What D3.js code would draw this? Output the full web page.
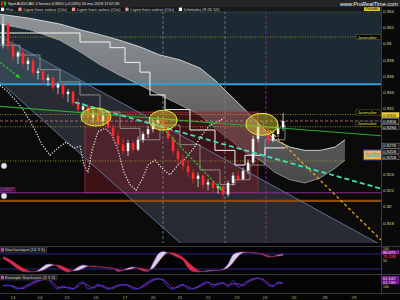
<!DOCTYPE html>
<html>
<head>
<meta charset="utf-8">
<script src="https://cdn.jsdelivr.net/npm/d3@7"></script>
<style>
html, body { margin:0; padding:0; background:#000; }
svg { display:block; font-family:'Liberation Sans', 'DejaVu Sans', sans-serif; }
</style>
</head>
<body>
<svg id="chart" width="400" height="300"></svg>
<script>
'use strict';

// 2h candles, AUD/CAD
var fCandleStart = -0.352;
var fCandleStep = 0.176;
var arrayOpen = [0.9399,0.9424,0.9397,0.9384,0.9389,0.9375,0.9379,0.9364,0.9366,0.9355,0.9358,0.9346,0.9350,0.9338,0.9341,0.9327,0.9319,0.9323,0.9309,0.9315,0.9305,0.9312,0.9297,0.9287,0.9276,0.9268,0.9278,0.9270,0.9282,0.9289,0.9295,0.9303,0.9306,0.9297,0.9284,0.9268,0.9258,0.9250,0.9242,0.9234,0.9238,0.9227,0.9230,0.9223,0.9225,0.9215,0.9229,0.9238,0.9234,0.9244,0.9254,0.9283,0.9299,0.9293,0.9281,0.9289,0.9297];
var arrayHigh = [0.9434,0.9427,0.9404,0.9391,0.9394,0.9383,0.9382,0.9370,0.9368,0.9362,0.9360,0.9353,0.9352,0.9344,0.9343,0.9333,0.9327,0.9325,0.9319,0.9321,0.9317,0.9315,0.9301,0.9293,0.9284,0.9282,0.9281,0.9286,0.9292,0.9299,0.9307,0.9311,0.9309,0.9300,0.9288,0.9272,0.9264,0.9256,0.9246,0.9242,0.9240,0.9234,0.9232,0.9228,0.9226,0.9232,0.9242,0.9244,0.9248,0.9258,0.9287,0.9303,0.9305,0.9296,0.9293,0.9301,0.9315];
var arrayLow = [0.9394,0.9391,0.9379,0.9375,0.9371,0.9367,0.9360,0.9356,0.9350,0.9348,0.9342,0.9338,0.9334,0.9328,0.9323,0.9315,0.9309,0.9305,0.9303,0.9301,0.9299,0.9293,0.9282,0.9271,0.9264,0.9262,0.9266,0.9268,0.9278,0.9284,0.9291,0.9297,0.9293,0.9280,0.9264,0.9252,0.9244,0.9236,0.9228,0.9224,0.9222,0.9220,0.9218,0.9216,0.9210,0.9212,0.9226,0.9230,0.9232,0.9240,0.9252,0.9279,0.9287,0.9277,0.9279,0.9285,0.9293];
var arrayClose = [0.9424,0.9397,0.9384,0.9389,0.9375,0.9379,0.9364,0.9366,0.9355,0.9358,0.9346,0.9350,0.9338,0.9341,0.9327,0.9319,0.9323,0.9309,0.9315,0.9305,0.9312,0.9297,0.9287,0.9276,0.9268,0.9278,0.9270,0.9282,0.9289,0.9295,0.9303,0.9306,0.9297,0.9284,0.9268,0.9258,0.9250,0.9242,0.9234,0.9238,0.9227,0.9230,0.9223,0.9225,0.9215,0.9229,0.9238,0.9234,0.9244,0.9254,0.9283,0.9299,0.9293,0.9281,0.9289,0.9297,0.9305];

// ichimoku cloud
var arrayCloudT = [-0.457,0.598,1.654,2.357,3.061,3.765,4.469,5.172,5.876,6.580,7.108,7.635,8.163,8.691,9.219,9.747,10.274,10.802,11.330,11.682];
var arrayCloudTop = [0.9436,0.9431,0.9424,0.9417,0.9411,0.9404,0.9396,0.9386,0.9380,0.9370,0.9355,0.9337,0.9319,0.9300,0.9282,0.9273,0.9269,0.9269,0.9273,0.9282];
var arrayCloudBottom = [0.9424,0.9417,0.9404,0.9390,0.9374,0.9361,0.9349,0.9337,0.9325,0.9312,0.9296,0.9282,0.9267,0.9257,0.9242,0.9233,0.9229,0.9235,0.9247,0.9257];

var arrayKijunT = [-0.457,2.357,3.413,3.941,4.469,4.820,5.348,6.228,7.108,7.811,8.163,8.867,9.571];
var arrayKijunP = [0.9413,0.9402,0.9395,0.9377,0.9365,0.9337,0.9319,0.9294,0.9269,0.9251,0.9263,0.9272,0.9272];

var arrayTenkanT = [-0.457,0.246,0.950,1.654,2.357,3.061,3.765,4.469,5.172,5.876,6.580,7.284,7.811,8.339,8.867,9.571];
var arrayTenkanP = [0.9398,0.9386,0.9368,0.9353,0.9337,0.9316,0.9296,0.9282,0.9300,0.9276,0.9245,0.9227,0.9233,0.9251,0.9282,0.9300];

var arrayChikouT = [-0.457,-0.176,0.070,0.317,0.528,0.774,1.020,1.302,1.583,1.865,2.146,2.357,2.498,2.639,2.780,2.991,3.237,3.484,3.695,3.906,4.117,4.328,4.539,4.750,4.996,5.243,5.524,5.806,6.087,6.369,6.650,6.932,7.213,7.424];
var arrayChikouP = [0.9349,0.9341,0.9331,0.9321,0.9309,0.9294,0.9276,0.9263,0.9272,0.9279,0.9272,0.9274,0.9251,0.9242,0.9269,0.9292,0.9296,0.9288,0.9269,0.9242,0.9227,0.9220,0.9233,0.9251,0.9257,0.9247,0.9239,0.9251,0.9260,0.9272,0.9288,0.9300,0.9304,0.9309];

// drawn objects : [t0, p0, t1, p1]
var arrayChannelUpper = [-0.457, 0.9409, 12.95, 0.9153];
var arrayChannelLower = [-0.457, 0.9353, 12.95, 0.8935];
var arrayGreenLine = [-0.457, 0.9323, 12.95, 0.9287];
var arrayCyanLine = [2.18, 0.9328, 12.95, 0.9222];
var arrayOrangeLine = [9.04, 0.9293, 12.95, 0.9159];
var arrayArrows = [[-0.457, 0.9377, 0.246, 0.9358], [5.278, 0.9296, 7.354, 0.9220]];
var arrayZone = [2.533, 0.9316, 8.62, 0.9217];
var arrayEllipseT = [2.92, 5.28, 8.76];
var arrayEllipseP = [0.9310, 0.9306, 0.9301];
var arrayAlertP = [0.9250, 0.9213];
var arrayMarkerT = [5.278, 7.46, 8.90];

var arrayLevelP = [0.9439, 0.9408, 0.9350, 0.9313, 0.9305, 0.9298, 0.9256, 0.9217, 0.9207];
var arrayLevelEndT = [null, null, null, null, null, null, 11.68, null, null];
var arrayJournalierLevel = [1, 3, 5];

var arrayPriceTicks = [0.944,0.942,0.940,0.938,0.936,0.934,0.932,0.930,0.928,0.926,0.924,0.922,0.920,0.918];
var arrayTagP = [0.9305, 0.9306, 0.9294, 0.9276, 0.9258, 0.9258];

var arrayDayT = [0,0.95,1.90,2.92,3.94,4.93,5.88,6.86,7.88,8.87,9.89,10.98,12];
var arrayDayLabels = ['13','14','15','16','17','20','21','22','23','24','26','28','29'];

var arrayStochK = [62,50,35,20,10,8,8,15,30,40,38,28,15,8,15,28,36,32,28,28,26,24,22,10,15,24,28,22,12,10,45,80,90,85,76,66,55,25,10,8,10,14,15,14,20,40,78,86,88,87,84,82,76,68,70,76,80.071];
var arrayStochD = [70,62,50,36,24,14,9,10,15,26,34,36,30,20,12,14,22,30,32,30,28,26,24,18,15,17,22,25,22,16,22,45,70,85,85,78,66,48,30,15,10,11,13,14,17,25,45,70,84,87,86,84,80,74,70,72,75.198];
var arrayStoch2A = [40,45,30,15,30,50,70,82,95,90,40,15,40,20,15,55,70,15,30,50,30,14,30,45,50,40,15,20,45,70,90,95,80,30,15,40,50,15,20,36,60,70,30,65,60,30,80,30,55,80,95,100,80,45,35,70,61.642];
var arrayStoch2B = [40,42,38,22,20,38,58,75,88,92,65,28,25,30,18,35,62,42,22,40,40,22,22,38,48,45,28,18,32,58,80,93,88,55,22,28,45,32,18,28,48,65,50,48,62,45,55,55,42,68,88,98,90,62,40,60,61.196];

var arrayLegendLabels = ['Prix','Ligne hors valeur (Clo)','Ligne hors valeur (Clo)','Ligne hors valeur (Clo)','Ichimoku (9 26 52)'];
var arrayLegendColors = ['#ffffff','#f09090','#f09090','#f09090','#ffffff'];

// layout
var nPlotRight = 381;
var nPlotTop = 11;
var nPlotBottom = 243;

var x = d3.scaleLinear().domain([0, 12]).range([13, 354]);
var y = d3.scaleLinear().domain([0.944, 0.918]).range([11, 222.9]);
var yStoch = d3.scaleLinear().domain([0, 100]).range([274, 249]);
var yStoch2 = d3.scaleLinear().domain([0, 100]).range([291, 278]);

var localeFr = d3.formatLocale({decimal: ',', thousands: '.', grouping: [3], currency: ['', '']});
var fmtTick = localeFr.format('.3~f');
var fmtTag = localeFr.format('.4f');
var fmtStoch = d3.format('.3f');

var svg = d3.select('#chart');
var defs = svg.append('defs');

defs.append('clipPath').attr('id', 'clipPlot')
	.append('rect').attr('x', 0).attr('y', nPlotTop).attr('width', nPlotRight).attr('height', nPlotBottom - nPlotTop);
defs.append('clipPath').attr('id', 'clipStoch')
	.append('rect').attr('x', 0).attr('y', 248).attr('width', nPlotRight).attr('height', 26);
defs.append('clipPath').attr('id', 'clipStoch2')
	.append('rect').attr('x', 0).attr('y', 275).attr('width', nPlotRight).attr('height', 18);

var gradCloud = defs.append('linearGradient').attr('id', 'gradCloud').attr('x1', 0).attr('y1', 0).attr('x2', 0).attr('y2', 1);
gradCloud.append('stop').attr('offset', '0%').attr('stop-color', '#d4d4d4');
gradCloud.append('stop').attr('offset', '100%').attr('stop-color', '#6e6e6e');

svg.append('rect').attr('width', 400).attr('height', 300).attr('fill', '#050505');

function Seg(array)
{
	return [[x(array[0]), y(array[1])], [x(array[2]), y(array[3])]];
}

// ---------- main plot
var gPlot = svg.append('g').attr('clip-path', 'url(#clipPlot)');

gPlot.append('rect')
	.attr('x', 0).attr('y', nPlotTop).attr('width', nPlotRight).attr('height', nPlotBottom - nPlotTop)
	.attr('fill', '#0b0b0b');
gPlot.append('rect')
	.attr('x', 0).attr('y', nPlotTop).attr('width', nPlotRight).attr('height', y(arrayLevelP[2]) - nPlotTop)
	.attr('fill', '#1c2a33');

// channel
var arrayChannelPoly = Seg(arrayChannelUpper).concat(Seg(arrayChannelLower).reverse());
gPlot.append('path')
	.attr('d', d3.line()(arrayChannelPoly) + 'Z')
	.attr('fill', '#a0b4d2').attr('fill-opacity', 0.2);

// cloud
var arrayCloud = arrayCloudT.map(function(t, i) { return {t: t, top: arrayCloudTop[i], bottom: arrayCloudBottom[i]}; });
gPlot.append('path')
	.attr('d', d3.area().x(function(d) { return x(d.t); }).y0(function(d) { return y(d.bottom); }).y1(function(d) { return y(d.top); })(arrayCloud))
	.attr('fill', 'url(#gradCloud)').attr('fill-opacity', 0.62);
gPlot.append('path')
	.attr('d', d3.line().x(function(d) { return x(d.t); }).y(function(d) { return y(d.top); })(arrayCloud))
	.attr('fill', 'none').attr('stroke', '#ececec').attr('stroke-width', 0.8);
gPlot.append('path')
	.attr('d', d3.line().x(function(d) { return x(d.t); }).y(function(d) { return y(d.bottom); })(arrayCloud))
	.attr('fill', 'none').attr('stroke', '#c8c8c8').attr('stroke-width', 0.6);

// zone
gPlot.append('rect')
	.attr('x', x(arrayZone[0])).attr('y', y(arrayZone[1]))
	.attr('width', x(arrayZone[2]) - x(arrayZone[0])).attr('height', y(arrayZone[3]) - y(arrayZone[1]))
	.attr('fill', '#7a1a24').attr('fill-opacity', 0.45)
	.attr('stroke', '#a8303e').attr('stroke-width', 0.8);

// horizontal levels
var arrayLevelStyle = [
	{color: '#a8a830', dash: '1,1.5', width: 0.8},
	{color: '#a8a830', dash: '1,1.5', width: 0.8},
	{color: '#2f9fd8', dash: null, width: 2},
	{color: '#b0a030', dash: '1,1.5', width: 0.8},
	{color: '#c08080', dash: '3,2', width: 0.8},
	{color: '#b0a030', dash: '1,1.5', width: 0.8},
	{color: '#a8a830', dash: '1,1.5', width: 0.8},
	{color: '#8a2a8a', dash: null, width: 1.2},
	{color: '#8a4a10', dash: null, width: 2.2}
];
arrayLevelP.forEach(function(fPrice, i)
{
	var style = arrayLevelStyle[i];
	var fEnd = arrayLevelEndT[i] == null ? nPlotRight : x(arrayLevelEndT[i]);
	gPlot.append('line')
		.attr('x1', 0).attr('x2', fEnd).attr('y1', y(fPrice)).attr('y2', y(fPrice))
		.attr('stroke', style.color).attr('stroke-width', style.width)
		.attr('stroke-dasharray', style.dash);
});

// vertical markers
var arrayMarkerColor = ['#7a7a7a', '#7a7a7a', '#a020b0'];
arrayMarkerT.forEach(function(t, i)
{
	gPlot.append('line')
		.attr('x1', x(t)).attr('x2', x(t)).attr('y1', nPlotTop).attr('y2', nPlotBottom)
		.attr('stroke', arrayMarkerColor[i]).attr('stroke-width', 0.9).attr('stroke-dasharray', '3,2');
});

// channel borders
[arrayChannelUpper, arrayChannelLower].forEach(function(array)
{
	gPlot.append('path').attr('d', d3.line()(Seg(array)))
		.attr('stroke', '#6884b4').attr('stroke-width', 0.8).attr('fill', 'none');
});

// kijun / tenkan
gPlot.append('path')
	.attr('d', d3.line().x(function(t) { return x(t); }).y(function(t, i) { return y(arrayTenkanP[i]); }).curve(d3.curveStepAfter)(arrayTenkanT))
	.attr('fill', 'none').attr('stroke', '#a0a0a0').attr('stroke-width', 0.8);
gPlot.append('path')
	.attr('d', d3.line().x(function(t) { return x(t); }).y(function(t, i) { return y(arrayKijunP[i]); }).curve(d3.curveStepAfter)(arrayKijunT))
	.attr('fill', 'none').attr('stroke', '#f4f4f4').attr('stroke-width', 1);

// chikou
gPlot.append('path')
	.attr('d', d3.line().x(function(t) { return x(t); }).y(function(t, i) { return y(arrayChikouP[i]); })(arrayChikouT))
	.attr('fill', 'none').attr('stroke', '#ececec').attr('stroke-width', 1.2).attr('stroke-dasharray', '1.2,1.6');

// candles
var arrayCandles = arrayOpen.map(function(fOpen, i)
{
	return {t: fCandleStart + i * fCandleStep, o: fOpen, h: arrayHigh[i], l: arrayLow[i], c: arrayClose[i]};
});
var gCandles = gPlot.append('g');
gCandles.selectAll('line').data(arrayCandles).enter().append('line')
	.attr('x1', function(d) { return x(d.t); }).attr('x2', function(d) { return x(d.t); })
	.attr('y1', function(d) { return y(d.h); }).attr('y2', function(d) { return y(d.l); })
	.attr('stroke', function(d) { return d.c >= d.o ? '#f4f4f4' : '#ff2a2a'; }).attr('stroke-width', 0.7);
gCandles.selectAll('rect').data(arrayCandles).enter().append('rect')
	.attr('x', function(d) { return x(d.t) - 1.3; }).attr('width', 2.6)
	.attr('y', function(d) { return y(Math.max(d.o, d.c)); })
	.attr('height', function(d) { return Math.max(0.8, Math.abs(y(d.o) - y(d.c))); })
	.attr('fill', function(d) { return d.c >= d.o ? '#f4f4f4' : '#ff2a2a'; });

// trend lines
gPlot.append('path').attr('d', d3.line()(Seg(arrayGreenLine)))
	.attr('stroke', '#28a830').attr('stroke-width', 1.1).attr('fill', 'none');
gPlot.append('path').attr('d', d3.line()(Seg(arrayCyanLine)))
	.attr('stroke', '#3de0b8').attr('stroke-width', 1.8).attr('stroke-dasharray', '5,3').attr('fill', 'none');
gPlot.append('path').attr('d', d3.line()(Seg(arrayOrangeLine)))
	.attr('stroke', '#e8a820').attr('stroke-width', 1.3).attr('stroke-dasharray', '3,2.5').attr('fill', 'none');

arrayArrows.forEach(function(array)
{
	var arrayPts = Seg(array);
	gPlot.append('path').attr('d', d3.line()(arrayPts))
		.attr('stroke', '#28d028').attr('stroke-width', 1.1).attr('stroke-dasharray', '2.5,1.5').attr('fill', 'none');
	var fAngle = Math.atan2(arrayPts[1][1] - arrayPts[0][1], arrayPts[1][0] - arrayPts[0][0]);
	var fX = arrayPts[1][0];
	var fY = arrayPts[1][1];
	var arrayHead = [[fX, fY],
		[fX - 4.5 * Math.cos(fAngle - 0.45), fY - 4.5 * Math.sin(fAngle - 0.45)],
		[fX - 4.5 * Math.cos(fAngle + 0.45), fY - 4.5 * Math.sin(fAngle + 0.45)]];
	gPlot.append('path').attr('d', d3.line()(arrayHead) + 'Z').attr('fill', '#28d028');
});

// ellipses
var arrayEllipseR = [[15, 9], [14, 10], [16, 11]];
arrayEllipseT.forEach(function(t, i)
{
	gPlot.append('ellipse')
		.attr('cx', x(t)).attr('cy', y(arrayEllipseP[i]))
		.attr('rx', arrayEllipseR[i][0]).attr('ry', arrayEllipseR[i][1])
		.attr('fill', '#d8d030').attr('fill-opacity', 0.45)
		.attr('stroke', '#f0e830').attr('stroke-width', 1);
});

// alert dots on the left
arrayAlertP.forEach(function(fPrice)
{
	gPlot.append('circle').attr('cx', 4).attr('cy', y(fPrice)).attr('r', 2.8)
		.attr('fill', '#e4e4ec').attr('stroke', '#9a9aa8').attr('stroke-width', 0.5);
});

// left price label
gPlot.append('rect').attr('x', 0).attr('y', y(arrayLevelP[7]) - 5.5).attr('width', 15).attr('height', 4.8)
	.attr('fill', '#2a0c2a').attr('stroke', '#a040a0').attr('stroke-width', 0.5);
gPlot.append('text').attr('x', 1).attr('y', y(arrayLevelP[7]) - 1.6)
	.attr('font-size', 4).attr('fill', '#f070f0').text(fmtTag(arrayLevelP[7]));

// journalier labels
var arrayJournalierNudge = [0, -2, -3];
arrayJournalierLevel.forEach(function(nIndex, i)
{
	var fY = y(arrayLevelP[nIndex]) + arrayJournalierNudge[i];
	gPlot.append('rect').attr('x', 356).attr('y', fY - 2.6).attr('width', 25).attr('height', 5.2)
		.attr('fill', '#050505').attr('stroke', '#8a8a30').attr('stroke-width', 0.4);
	gPlot.append('text').attr('x', 357.5).attr('y', fY + 1.6)
		.attr('font-size', 4.4).attr('fill', '#e8e060').text('Journalier');
});

// twitter box
var fTwitterY = y(arrayLevelP[6]);
gPlot.append('rect').attr('x', 363.5).attr('y', fTwitterY - 11).attr('width', 20).attr('height', 10)
	.attr('fill', '#f2b848').attr('stroke', '#2a3ac8').attr('stroke-width', 1);
gPlot.append('text').attr('x', 365).attr('y', fTwitterY - 3.5)
	.attr('font-size', 6.5).attr('fill', '#3aa0e8').text('twitter');

// ---------- top bars
svg.append('rect').attr('x', 0).attr('y', 0).attr('width', 400).attr('height', 7).attr('fill', '#242424');
svg.append('rect').attr('x', 1).attr('y', 1.5).attr('width', 2).attr('height', 4).attr('fill', '#e02020');
svg.append('rect').attr('x', 4).attr('y', 1.5).attr('width', 2).attr('height', 4).attr('fill', '#20c020');
svg.append('text').attr('x', 8).attr('y', 5).attr('font-size', 3.9).attr('fill', '#e0e0e0')
	.text('Spot AUD/CAD 2 heures 0,9305 (+0,53%) 24 mai 2019 17:07:09');
svg.append('text').attr('x', 398).attr('y', 5.6).attr('text-anchor', 'end')
	.attr('font-size', 5.6).attr('font-style', 'italic').attr('fill', '#f4f4f4').text('www.ProRealTime.com');

svg.append('rect').attr('x', 0).attr('y', 7).attr('width', nPlotRight).attr('height', 4.6).attr('fill', '#141a1e');
var fLegendX = 1;
arrayLegendLabels.forEach(function(strLabel, i)
{
	svg.append('rect').attr('x', fLegendX).attr('y', 7.6).attr('width', 3.2).attr('height', 3.4)
		.attr('fill', arrayLegendColors[i]);
	var text = svg.append('text').attr('x', fLegendX + 5).attr('y', 10.8)
		.attr('font-size', 4.3).attr('fill', '#c8c8c8').text(strLabel);
	fLegendX += 5 + text.node().getComputedTextLength() + 5;
});

// ---------- right axis
svg.append('rect').attr('x', nPlotRight).attr('y', 7).attr('width', 400 - nPlotRight).attr('height', 286).attr('fill', '#0a0a0a');
svg.append('line').attr('x1', nPlotRight + 0.5).attr('x2', nPlotRight + 0.5).attr('y1', 7).attr('y2', 293)
	.attr('stroke', '#3a3a3a').attr('stroke-width', 1);

svg.append('rect').attr('x', 364).attr('y', 7.2).attr('width', 16).attr('height', 3.8).attr('fill', '#d8c820');
svg.append('text').attr('x', 365.5).attr('y', 10.4).attr('font-size', 3.6).attr('fill', '#202020').text('Période');

// tags sit over the tick labels they would hide
var arrayTagNudge = [-6, 1, -3, 1, -8, -2];
var arrayTagY = arrayTagP.map(function(fPrice, i) { return y(fPrice) + arrayTagNudge[i]; });

arrayPriceTicks.forEach(function(fTick)
{
	var fY = y(fTick);
	var bHidden = arrayTagY.some(function(fTagY) { return Math.abs(fTagY - fY) < 4.6; });
	if (bHidden)
	{
		return;
	}
	svg.append('text').attr('x', 383).attr('y', fY + 1.6)
		.attr('font-size', 4.4).attr('fill', '#d8d890').text(fmtTick(fTick));
});

arrayTagP.forEach(function(fPrice, i)
{
	var fY = arrayTagY[i];
	var bMain = i == 0;
	svg.append('rect').attr('x', 382).attr('y', fY - 2.5).attr('width', 17).attr('height', 5)
		.attr('fill', bMain ? '#e8d030' : '#101010')
		.attr('stroke', bMain ? '#f0e060' : '#b8b8b8').attr('stroke-width', 0.4);
	svg.append('text').attr('x', 383).attr('y', fY + 1.6)
		.attr('font-size', 4.3).attr('fill', bMain ? '#202020' : '#f0f0f0').text(fmtTag(fPrice));
});

// ---------- stochastic panel
svg.append('line').attr('x1', 0).attr('x2', 400).attr('y1', 246.5).attr('y2', 246.5).attr('stroke', '#383838');
svg.append('line').attr('x1', 0).attr('x2', 400).attr('y1', 274.5).attr('y2', 274.5).attr('stroke', '#383838');
svg.append('line').attr('x1', 0).attr('x2', 400).attr('y1', 293.5).attr('y2', 293.5).attr('stroke', '#383838');

var gStoch = svg.append('g').attr('clip-path', 'url(#clipStoch)');
[80, 20].forEach(function(fLevel)
{
	gStoch.append('line').attr('x1', 0).attr('x2', nPlotRight).attr('y1', yStoch(fLevel)).attr('y2', yStoch(fLevel))
		.attr('stroke', '#2a2a9a').attr('stroke-width', 0.9);
});

var arrayStoch = arrayStochK.map(function(fK, i) { return {t: fCandleStart + i * fCandleStep, k: fK, d: arrayStochD[i]}; });
var curveStoch = d3.curveMonotoneX;
function fnX(d) { return x(d.t); }
defs.append('clipPath').attr('id', 'clipKTop').append('path')
	.attr('d', d3.area().x(fnX).y0(249).y1(function(d) { return yStoch(d.k); }).curve(curveStoch)(arrayStoch));
defs.append('clipPath').attr('id', 'clipKBottom').append('path')
	.attr('d', d3.area().x(fnX).y0(274).y1(function(d) { return yStoch(d.k); }).curve(curveStoch)(arrayStoch));
gStoch.append('path').attr('clip-path', 'url(#clipKTop)')
	.attr('d', d3.area().x(fnX).y0(274).y1(function(d) { return yStoch(d.d); }).curve(curveStoch)(arrayStoch))
	.attr('fill', '#e8283c');
gStoch.append('path').attr('clip-path', 'url(#clipKBottom)')
	.attr('d', d3.area().x(fnX).y0(249).y1(function(d) { return yStoch(d.d); }).curve(curveStoch)(arrayStoch))
	.attr('fill', '#d8ccf0');
gStoch.append('path')
	.attr('d', d3.line().x(fnX).y(function(d) { return yStoch(d.k); }).curve(curveStoch)(arrayStoch))
	.attr('fill', 'none').attr('stroke', '#6a3a8a').attr('stroke-width', 0.6);
gStoch.append('path')
	.attr('d', d3.line().x(fnX).y(function(d) { return yStoch(d.d); }).curve(curveStoch)(arrayStoch))
	.attr('fill', 'none').attr('stroke', '#902040').attr('stroke-width', 0.6);

// second oscillator
var gStoch2 = svg.append('g').attr('clip-path', 'url(#clipStoch2)');
var arrayStoch2 = arrayStoch2A.map(function(fA, i) { return {t: fCandleStart + i * fCandleStep, a: fA, b: arrayStoch2B[i]}; });
gStoch2.append('path')
	.attr('d', d3.line().x(fnX).y(function(d) { return yStoch2(d.b); }).curve(curveStoch)(arrayStoch2))
	.attr('fill', 'none').attr('stroke', '#a028b8').attr('stroke-width', 1);
gStoch2.append('path')
	.attr('d', d3.line().x(fnX).y(function(d) { return yStoch2(d.a); }).curve(curveStoch)(arrayStoch2))
	.attr('fill', 'none').attr('stroke', '#3434e0').attr('stroke-width', 1);

// panel titles
function AddPanelTitle(fY, strTitle)
{
	var text = svg.append('text').attr('x', 5).attr('y', fY + 3.6).attr('font-size', 4.2).attr('fill', '#d0d0d0').text(strTitle);
	var fW = text.node().getComputedTextLength();
	svg.insert('rect', function() { return text.node(); })
		.attr('x', 0).attr('y', fY).attr('width', fW + 7).attr('height', 4.8)
		.attr('fill', '#1c1c1c').attr('stroke', '#555').attr('stroke-width', 0.4);
	svg.append('rect').attr('x', 1).attr('y', fY + 0.8).attr('width', 3).attr('height', 3.2).attr('fill', '#e040c0');
}
AddPanelTitle(247.4, 'Stochastique (14 3 5)');
AddPanelTitle(275.2, 'Exemple Stochastic (3 3 3)');

// panel axis tags
var fLastK = arrayStochK[arrayStochK.length - 1];
var fLastD = arrayStochD[arrayStochD.length - 1];
var fLastA = arrayStoch2A[arrayStoch2A.length - 1];
var fLastB = arrayStoch2B[arrayStoch2B.length - 1];
svg.append('text').attr('x', 383).attr('y', 249.6).attr('font-size', 3.4).attr('fill', '#d8d890').text('100');
function AddPanelTag(fY, strText, strBg, strFg)
{
	svg.append('rect').attr('x', 382).attr('y', fY - 2.3).attr('width', 17).attr('height', 4.4).attr('fill', strBg);
	svg.append('text').attr('x', 383).attr('y', fY + 1.4).attr('font-size', 4.1).attr('fill', strFg).text(strText);
}
AddPanelTag(252.6, fmtStoch(fLastK), '#8a1a9a', '#f0e0f0');
AddPanelTag(256.8, fmtStoch(fLastD), '#1a0a10', '#e86070');
svg.append('text').attr('x', 383).attr('y', 262).attr('font-size', 3.6).attr('fill', '#d8d890').text('50');
AddPanelTag(278.2, fmtStoch(fLastA), '#6a1a8a', '#f0e0f0');
AddPanelTag(282.2, fmtStoch(fLastB), '#6a1a8a', '#f0d0f0');
svg.append('text').attr('x', 383).attr('y', 287.6).attr('font-size', 3.4).attr('fill', '#d8d890').text('100');

// date axis
arrayDayT.forEach(function(t, i)
{
	svg.append('text').attr('x', x(t)).attr('y', 298.6).attr('text-anchor', 'middle')
		.attr('font-size', 4.4).attr('fill', '#b4b47c').text(arrayDayLabels[i]);
});
</script>
</body>
</html>
